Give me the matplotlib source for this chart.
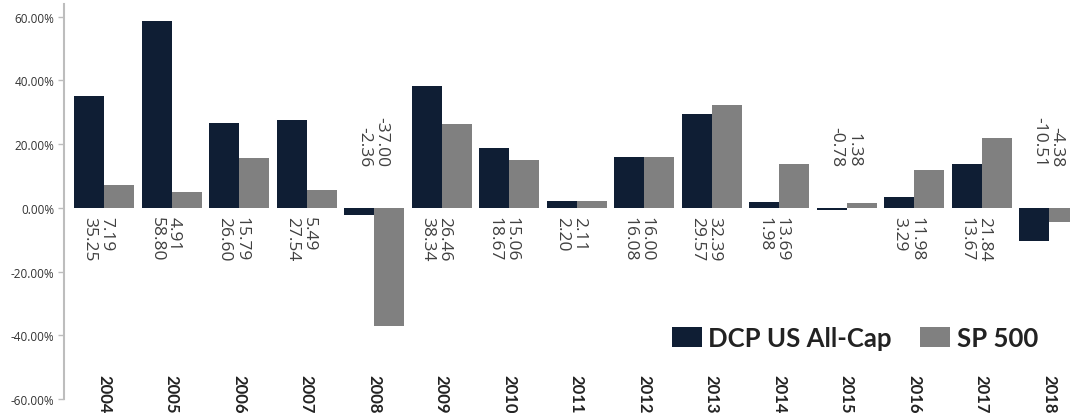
import matplotlib.pyplot as plt
import numpy as np

years = ['2004', '2005', '2006', '2007', '2008', '2009', '2010', '2011',
         '2012', '2013', '2014', '2015', '2016', '2017', '2018']
dcp = [35.25, 58.80, 26.60, 27.54, -2.36, 38.34, 18.67, 2.20,
       16.08, 29.57, 1.98, -0.78, 3.29, 13.67, -10.51]
sp500 = [7.19, 4.91, 15.79, 5.49, -37.00, 26.46, 15.06, 2.11,
         16.00, 32.39, 13.69, 1.38, 11.98, 21.84, -4.38]
yticks = [-60, -40, -20, 0, 20, 40, 60]

navy = '#0f1e34'
grey = '#808080'

fig = plt.figure(figsize=(10.70, 4.14), dpi=100)
ax = fig.add_axes([64 / 1070, 14 / 414, 1 - 64 / 1070, 395 / 414])

x = np.arange(len(years))
w = 0.444
ax.bar(x - w / 2, dcp, w, color=navy, label='DCP US All-Cap')
ax.bar(x + w / 2, sp500, w, color=grey, label='SP 500')

ax.set_xlim(-0.593, 14.31)
ax.set_ylim(-60, 64)

# value labels, rotated, SP first line then DCP
for i in range(len(years)):
    txt = '{:.2f}\n{:.2f}'.format(sp500[i], dcp[i])
    if dcp[i] >= 0:
        ax.text(i - 0.09, -2.7, txt, rotation=-90, ha='center', va='top',
                fontsize=12.5, family='Open Sans', color='#404040',
                multialignment='left', linespacing=1.1)
    else:
        ax.text(i - 0.02, 13.0, txt, rotation=-90, ha='center', va='bottom',
                fontsize=12.5, family='Open Sans', color='#404040',
                multialignment='right', linespacing=1.1)
    ax.text(i, -52.3, years[i], rotation=-90, ha='center', va='top',
            fontsize=12, family='Lato', fontweight='bold', color='#222222',
            clip_on=False)

ax.set_xticks([])
ax.set_yticks(yticks)
ax.set_yticklabels(['{:.2f}%'.format(v) for v in yticks],
                   family='Open Sans', fontsize=8.5, color='#333333')
ax.tick_params(axis='y', length=4, width=1, color='#bdbdbd', pad=3)

for s in ['top', 'right', 'bottom']:
    ax.spines[s].set_visible(False)
ax.spines['left'].set_color('#bdbdbd')
ax.spines['left'].set_linewidth(1.5)

ax.legend(loc='center left', bbox_to_anchor=(672 / 1070, 1 - 339 / 414),
          bbox_transform=fig.transFigure, ncol=2, frameon=False,
          prop={'family': 'Lato', 'weight': 'bold', 'size': 18.5},
          handlelength=1.17, handleheight=0.86, handletextpad=0.25,
          columnspacing=1.1, borderpad=0, borderaxespad=0, labelcolor='#222222')

plt.savefig('out.png')
